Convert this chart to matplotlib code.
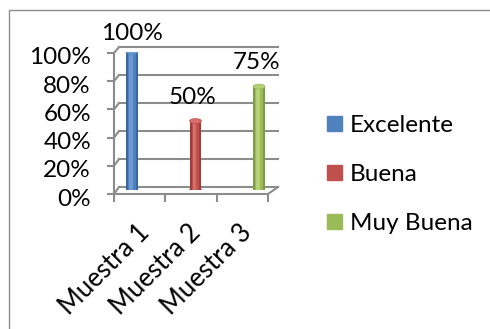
import matplotlib.pyplot as plt
from matplotlib.patches import Ellipse, Rectangle, Patch
from matplotlib.lines import Line2D
from matplotlib.transforms import IdentityTransform

plt.rcParams['font.family'] = ['Lato', 'DejaVu Sans']

categories = ["Muestra 1", "Muestra 2", "Muestra 3"]
series = ["Excelente", "Buena", "Muy Buena"]
values = [1.00, 0.50, 0.75]
value_labels = ["100%", "50%", "75%"]
y_ticks = [0, 0.2, 0.4, 0.6, 0.8, 1.0]
y_tick_labels = ["0%", "20%", "40%", "60%", "80%", "100%"]

colors = ["#4F81BD", "#C0504D", "#9BBB59"]
dark_colors = ["#3A679E", "#A13C39", "#7D9C44"]
light_colors = ["#6E9AD3", "#D56E6A", "#B4D27A"]
grid_color = "#8C8C8C"
fs = 17.5

W, H = 490, 329
fig = plt.figure(figsize=(W / 100, H / 100), dpi=100)


def px_box(left, top, right, bottom):
    return [left / W, 1 - bottom / H, (right - left) / W, (bottom - top) / H]


# chart area border (runs off the right and bottom edge)
fig.patches.append(Rectangle((9 / W, -0.1), 1.2, 1 - 10 / H + 0.1,
                             transform=fig.transFigure, fill=False,
                             edgecolor=grid_color, lw=1.0))

# back wall with gridlines
ax_back = fig.add_axes(px_box(119, 47, 278, 187))
ax_back.set_xlim(0, 3)
ax_back.set_ylim(0, 1)
ax_back.axis("off")
for t in y_ticks:
    ax_back.axhline(t, color=grid_color, lw=1.5, clip_on=False)

# front plane: value axis and floor edge
ax_front = fig.add_axes(px_box(114, 53, 268, 194))
ax_front.set_xlim(0, 3)
ax_front.set_ylim(0, 1)
ax_front.patch.set_visible(False)
for side in ["top", "right"]:
    ax_front.spines[side].set_visible(False)
for side in ["left", "bottom"]:
    ax_front.spines[side].set_color(grid_color)
    ax_front.spines[side].set_linewidth(1.5)
ax_front.set_yticks(y_ticks)
ax_front.set_xticks([0, 1, 2, 3])
ax_front.tick_params(axis="y", length=5, width=1.5, color=grid_color, labelleft=False)
ax_front.tick_params(axis="x", length=6, width=1.5, color=grid_color, labelbottom=False)

for t, lab in zip(y_ticks, y_tick_labels):
    ax_front.annotate(lab, (0, t), xytext=(-23, -5), textcoords="offset pixels",
                      ha="right", va="center", fontsize=fs)

for i, cat in enumerate(categories):
    ax_front.annotate(cat, (i + 0.5, 0), xytext=(-3, -26), textcoords="offset pixels",
                      ha="right", va="top", rotation=45, rotation_mode="anchor",
                      fontsize=18.5)

# depth edges joining front axis to the back wall
for t in y_ticks:
    x0, y0 = ax_front.transData.transform((0, t))
    x1, y1 = ax_back.transData.transform((0, t))
    fig.add_artist(Line2D([x0, x1], [y0, y1], transform=IdentityTransform(),
                          color=grid_color, lw=1.5))
x0, y0 = ax_front.transData.transform((3, 0))
x1, y1 = ax_back.transData.transform((3, 0))
fig.add_artist(Line2D([x0, x1], [y0, y1], transform=IdentityTransform(),
                      color=grid_color, lw=1.5))

# cylinders
ax_bars = fig.add_axes(px_box(100.25, 52, 290.75, 190))
ax_bars.set_xlim(-0.5, 2.5)
ax_bars.set_ylim(0, 1)
ax_bars.axis("off")
w = 0.175
cap = 0.03
label_offsets = [(0, 19), (-3, 24), (-2, 24)]
for i, v in enumerate(values):
    ax_bars.bar(i, v, width=w, color=dark_colors[i], zorder=2)
    ax_bars.bar(i, v, width=w * 0.7, color=colors[i], zorder=3)
    ax_bars.bar(i - w * 0.08, v, width=w * 0.3, color=light_colors[i], zorder=4)
    ax_bars.add_patch(Ellipse((i, 0), w, cap, color=dark_colors[i], zorder=1))
    ax_bars.add_patch(Ellipse((i, v), w, cap, color=colors[i], zorder=5))
    ax_bars.add_patch(Ellipse((i, v), w * 0.8, cap * 0.7, color=light_colors[i], zorder=6))
    ax_bars.annotate(value_labels[i], (i, v), xytext=label_offsets[i],
                     textcoords="offset pixels", ha="center", va="center",
                     fontsize=fs, annotation_clip=False)

handles = [Patch(color=c, label=s) for c, s in zip(colors, series)]
fig.legend(handles=handles, loc="upper left", bbox_to_anchor=(327 / W, 1 - 115 / H),
           frameon=False, fontsize=fs, borderpad=0, borderaxespad=0,
           handlelength=0.6, handleheight=0.6, handletextpad=0.35,
           labelspacing=1.15)

fig.savefig("out.png", dpi=100)
